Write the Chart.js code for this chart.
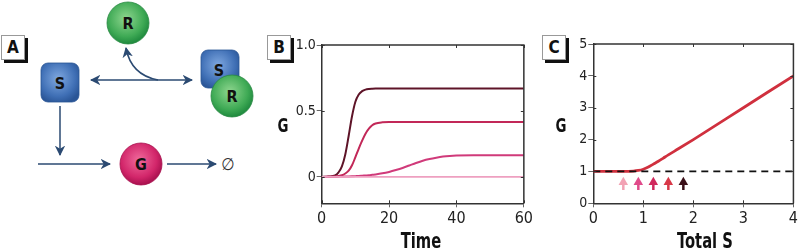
<!DOCTYPE html>
<html>
<head>
<meta charset="utf-8">
<script src="https://cdn.jsdelivr.net/npm/chart.js@4.4.0/dist/chart.umd.min.js"></script>
<style>
  body { margin: 0; background: #fff; }
  #wrap { position: relative; width: 800px; height: 252px; overflow: hidden; font-family: 'Liberation Sans Narrow', 'DejaVu Sans Condensed', sans-serif; }
  .cv { position: absolute; top: 0; height: 252px; }
  .lbl { position: absolute; width: 22px; height: 23px; background: #fff; border: 1px solid #999; box-shadow: 3px 3px 0 #111;
         font: bold 17px 'Liberation Sans Narrow', 'DejaVu Sans Condensed', sans-serif; text-align: center; line-height: 23px; color: #111; }
  .ttl { position: absolute; font-weight: bold; color: #111; transform: translate(-50%, -50%) scaleX(0.78); white-space: nowrap; }
</style>
</head>
<body>
<div id="wrap">
  <!-- panel A: diagram -->
  <svg width="260" height="252" style="position:absolute;left:0;top:0" font-family="'Liberation Sans Narrow', 'DejaVu Sans Condensed', sans-serif">
    <defs>
      <radialGradient id="gGreen" cx="45%" cy="40%" r="60%">
        <stop offset="0" stop-color="#8fd68f"/><stop offset="0.7" stop-color="#3faa55"/><stop offset="1" stop-color="#1f8a3e"/>
      </radialGradient>
      <radialGradient id="gBlue" cx="45%" cy="40%" r="65%">
        <stop offset="0" stop-color="#7fa8e0"/><stop offset="0.7" stop-color="#3f6fb5"/><stop offset="1" stop-color="#2a5596"/>
      </radialGradient>
      <radialGradient id="gPink" cx="45%" cy="40%" r="60%">
        <stop offset="0" stop-color="#f06a9c"/><stop offset="0.7" stop-color="#d2266a"/><stop offset="1" stop-color="#a8104e"/>
      </radialGradient>
      <marker id="ah" viewBox="0 0 10 10" refX="9" refY="5" markerWidth="7" markerHeight="7" orient="auto-start-reverse">
        <path d="M0,0 L10,5 L0,10 L3,5 z" fill="#2b4a72"/>
      </marker>
    </defs>
    <g stroke="#2b4a72" stroke-width="1.5" fill="none">
      <line x1="91" y1="80" x2="192" y2="80" marker-start="url(#ah)" marker-end="url(#ah)"/>
      <path d="M158,80 Q131,75 126,48" marker-end="url(#ah)"/>
      <line x1="60" y1="106" x2="60" y2="155" marker-end="url(#ah)"/>
      <line x1="38" y1="164" x2="110" y2="164" marker-end="url(#ah)"/>
      <line x1="167" y1="164" x2="216" y2="164" marker-end="url(#ah)"/>
    </g>
    <circle cx="128" cy="23" r="21" fill="url(#gGreen)" stroke="#2a8a44" stroke-width="0.8"/>
    <text x="128" y="29" text-anchor="middle" font-size="16" font-weight="bold" fill="#111">R</text>
    <rect x="41" y="63" width="38" height="39" rx="7" fill="url(#gBlue)" stroke="#2a5596" stroke-width="0.8"/>
    <text x="60" y="89" text-anchor="middle" font-size="16" font-weight="bold" fill="#111">S</text>
    <rect x="201" y="50" width="38" height="38" rx="7" fill="url(#gBlue)" stroke="#2a5596" stroke-width="0.8"/>
    <text x="219" y="76" text-anchor="middle" font-size="16" font-weight="bold" fill="#111">S</text>
    <circle cx="232" cy="96" r="21" fill="url(#gGreen)" stroke="#2a8a44" stroke-width="0.8"/>
    <text x="232" y="102" text-anchor="middle" font-size="16" font-weight="bold" fill="#111">R</text>
    <circle cx="141" cy="164" r="21" fill="url(#gPink)" stroke="#a8104e" stroke-width="0.8"/>
    <text x="141" y="170" text-anchor="middle" font-size="16" font-weight="bold" fill="#111">G</text>
    <text x="228" y="170" text-anchor="middle" font-size="17" fill="#333">∅</text>
  </svg>
  <div class="lbl" style="left:1px;top:35px">A</div>
  <div class="lbl" style="left:267px;top:35px">B</div>
  <div class="lbl" style="left:542px;top:35px">C</div>

  <canvas id="chartB" class="cv" style="left:265px;width:270px" width="270" height="252"></canvas>
  <canvas id="chartC" class="cv" style="left:540px;width:260px" width="260" height="252"></canvas>

  <div class="ttl" style="left:283px;top:125px;font-size:19px">G</div>
  <div class="ttl" style="left:421px;top:241px;font-size:21px">Time</div>
  <div class="ttl" style="left:561px;top:125px;font-size:19px">G</div>
  <div class="ttl" style="left:705px;top:241px;font-size:21px">Total S</div>
</div>

<script>
// panel B : G over time
const timeB = [0, 2, 4, 5, 6, 7, 8, 9, 10, 11, 12, 13, 14, 15, 16, 18, 20, 22, 24, 26, 28, 30, 32, 34, 36, 38, 40, 45, 50, 60];
const gHigh = [0, 0.003, 0.012, 0.035, 0.08, 0.17, 0.31, 0.46, 0.57, 0.625, 0.65, 0.662, 0.667, 0.669, 0.67, 0.67, 0.67, 0.67, 0.67, 0.67, 0.67, 0.67, 0.67, 0.67, 0.67, 0.67, 0.67, 0.67, 0.67, 0.67];
const gMid = [0, 0.001, 0.004, 0.007, 0.013, 0.026, 0.047, 0.088, 0.15, 0.215, 0.275, 0.328, 0.366, 0.392, 0.405, 0.414, 0.417, 0.417, 0.417, 0.417, 0.417, 0.417, 0.417, 0.417, 0.417, 0.417, 0.417, 0.417, 0.417, 0.417];
const gLow = [0, 0.001, 0.002, 0.002, 0.003, 0.003, 0.004, 0.005, 0.006, 0.007, 0.009, 0.011, 0.013, 0.016, 0.019, 0.027, 0.038, 0.052, 0.068, 0.087, 0.106, 0.123, 0.136, 0.146, 0.154, 0.159, 0.162, 0.165, 0.165, 0.165];
const gNone = [0, 0, 0, 0, 0, 0, 0, 0, 0, 0, 0, 0, 0, 0, 0, 0, 0, 0, 0, 0, 0, 0, 0, 0, 0, 0, 0, 0, 0, 0];
const xTicksB = [0, 20, 40, 60];
const yTicksB = [0, 0.5, 1.0];
const yLabelsB = ['0', '0.5', '1.0'];

// panel C : steady state G vs total S
const totalS = [0, 0.5, 0.7, 0.8, 0.9, 1.0, 1.1, 1.2, 1.3, 1.4, 1.5, 1.7, 2, 3, 4];
const gSteady = [1, 1, 1.003, 1.01, 1.03, 1.07, 1.14, 1.23, 1.32, 1.42, 1.52, 1.71, 2.0, 3.0, 4.0];
const baseLine = [1, 1];
const baseS = [0, 4];
const arrowS = [0.6, 0.9, 1.2, 1.5, 1.8];
const arrowColors = ['#f2a2b4', '#e04a8a', '#d0285c', '#d83848', '#3a1018'];
const xTicksC = [0, 1, 2, 3, 4];
const yTicksC = [0, 1, 2, 3, 4, 5];

Chart.defaults.font.family = "'Liberation Sans Narrow', 'DejaVu Sans Condensed', sans-serif";
Chart.defaults.color = '#222';

const pts = (xs, ys) => xs.map((x, i) => ({x: x, y: ys[i]}));

// frame on top / right plus small inward ticks
const framePlugin = {
  id: 'frame',
  afterDraw(chart) {
    const {ctx, chartArea: a, scales} = chart;
    const x = scales.x, y = scales.y;
    ctx.save();
    ctx.strokeStyle = '#333';
    ctx.lineWidth = 1.5;
    ctx.beginPath();
    ctx.moveTo(a.left, a.top);
    ctx.lineTo(a.right, a.top);
    ctx.lineTo(a.right, a.bottom);
    ctx.stroke();
    ctx.lineWidth = 1;
    ctx.beginPath();
    x.ticks.forEach(t => {
      const px = Math.round(x.getPixelForValue(t.value)) + 0.5;
      ctx.moveTo(px, a.top); ctx.lineTo(px, a.top + 3);
      ctx.moveTo(px, a.bottom); ctx.lineTo(px, a.bottom - 3);
    });
    y.ticks.forEach(t => {
      const py = Math.round(y.getPixelForValue(t.value)) + 0.5;
      ctx.moveTo(a.right, py); ctx.lineTo(a.right - 3, py);
      ctx.moveTo(a.left, py); ctx.lineTo(a.left + 3, py);
    });
    ctx.stroke();
    ctx.restore();
  }
};

function axes(xMin, xMax, xTicks, yMin, yMax, yTicks, yLabels, yWidth, xHeight) {
  return {
    x: {
      type: 'linear', min: xMin, max: xMax,
      afterBuildTicks: s => { s.ticks = xTicks.map(v => ({value: v})); },
      afterFit: s => { s.height = xHeight; },
      grid: {drawOnChartArea: false, drawTicks: true, tickLength: 4, color: '#666'},
      border: {display: true, color: '#333', width: 1.5},
      ticks: {font: {size: 16}, padding: 2, maxRotation: 0, color: '#222'}
    },
    y: {
      type: 'linear', min: yMin, max: yMax,
      afterBuildTicks: s => { s.ticks = yTicks.map(v => ({value: v})); },
      afterFit: s => { s.width = yWidth; },
      grid: {drawOnChartArea: false, drawTicks: true, tickLength: 5, color: '#666'},
      border: {display: true, color: '#333', width: 1.5},
      ticks: {
        font: {size: 14}, padding: 1, color: '#222',
        callback: (v) => yLabels ? yLabels[yTicks.indexOf(v)] : String(v)
      }
    }
  };
}

const commonPlugins = {legend: {display: false}, tooltip: {enabled: false}};

function lineSet(xs, ys, color, width) {
  return {
    data: pts(xs, ys), borderColor: color, borderWidth: width, pointRadius: 0,
    fill: false, cubicInterpolationMode: 'monotone'
  };
}

new Chart(document.getElementById('chartB'), {
  type: 'line',
  data: {
    datasets: [
      lineSet(timeB, gNone, '#eea0c0', 1.8),
      lineSet(timeB, gLow, '#d03a7a', 2),
      lineSet(timeB, gMid, '#c22858', 2),
      lineSet(timeB, gHigh, '#5e1428', 2)
    ]
  },
  options: {
    responsive: false, animation: false,
    layout: {padding: {top: 45, right: 10.7, left: 0, bottom: 0}},
    scales: axes(0, 60, xTicksB, -0.2, 1.0, yTicksB, yLabelsB, 56.7, 48.7),
    plugins: commonPlugins
  },
  plugins: [framePlugin]
});

const arrowSets = arrowS.map((s, i) => ({
  data: [{x: s, y: 0.42}, {x: s, y: 0.66}],
  borderColor: arrowColors[i], backgroundColor: arrowColors[i], borderWidth: 2.5,
  pointRadius: [0, 5.5], pointStyle: 'triangle', pointBorderWidth: 0, fill: false
}));

new Chart(document.getElementById('chartC'), {
  type: 'line',
  data: {
    datasets: [
      {
        data: pts(baseS, baseLine), borderColor: '#111', borderWidth: 1.8, borderDash: [7, 5],
        pointRadius: 0, fill: false
      },
      lineSet(totalS, gSteady, '#d0303e', 2.8),
      ...arrowSets
    ]
  },
  options: {
    responsive: false, animation: false,
    layout: {padding: {top: 44, right: 4, left: 0, bottom: 0}},
    scales: axes(0, 4, xTicksC, 0, 5, yTicksC, null, 53.3, 48.7),
    plugins: commonPlugins
  },
  plugins: [framePlugin]
});
</script>
</body>
</html>
